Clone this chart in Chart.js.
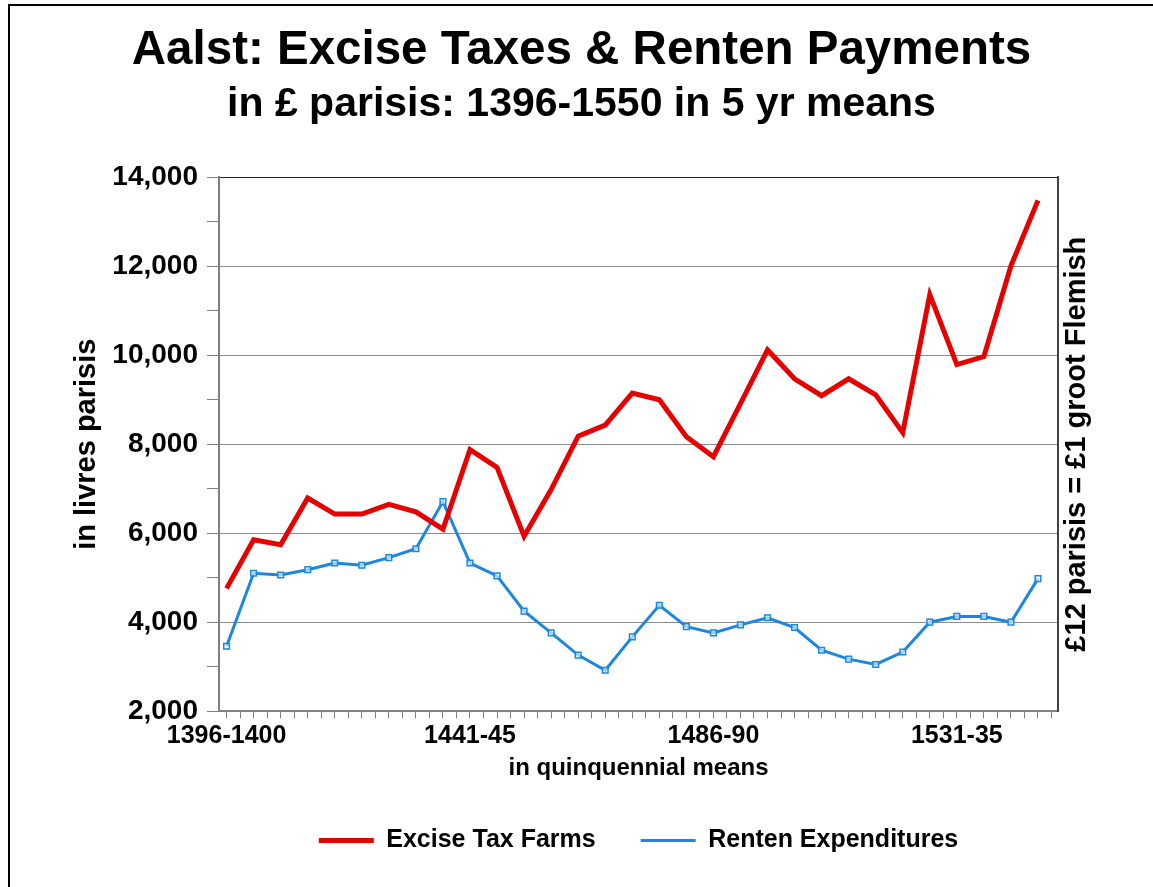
<!DOCTYPE html>
<html>
<head>
<meta charset="utf-8">
<title>Aalst: Excise Taxes & Renten Payments</title>
<script src="https://cdn.jsdelivr.net/npm/chart.js@4.4.1/dist/chart.umd.min.js"></script>
<style>
  html, body { margin: 0; padding: 0; background: #fff; overflow: hidden; }
  #frame { position: absolute; left: 8px; top: 4px; width: 1160px; height: 900px;
           border-left: 2px solid #000; border-top: 2px solid #000; }
  #chart { position: absolute; left: 0; top: 0; }
</style>
</head>
<body>
<div id="frame"></div>
<canvas id="chart" width="1153" height="887"></canvas>
<script>
const periods = [
    "1396-1400", "1401-05", "1406-10", "1411-15", "1416-20", "1421-25", "1426-30",
    "1431-35", "1436-40", "1441-45", "1446-50", "1451-55", "1456-60", "1461-65",
    "1466-70", "1471-75", "1476-80", "1481-85", "1486-90", "1491-95", "1496-1500",
    "1501-05", "1506-10", "1511-15", "1516-20", "1521-25", "1526-30", "1531-35",
    "1536-40", "1541-45", "1546-50"
];

const exciseTaxFarms = [
    4760, 5850, 5740, 6790, 6430, 6430, 6650, 6480, 6090, 7880, 7480,
    5930, 6980, 8180, 8430, 9150, 9000, 8170, 7720, 8910, 10120,
    9470, 9090, 9470, 9110, 8260, 11360, 9790, 9970, 12010, 13480
];

const rentenExpenditures = [
    3460, 5100, 5060, 5180, 5330, 5280, 5450, 5650, 6710, 5330, 5040,
    4250, 3760, 3260, 2920, 3670, 4380, 3900, 3760, 3940, 4100,
    3880, 3370, 3170, 3050, 3330, 4000, 4130, 4130, 4000, 4980
];

const labelledPeriods = ["1396-1400", "1441-45", "1486-90", "1531-35"];
const yTicks = [2000, 4000, 6000, 8000, 10000, 12000, 14000];

const rightTitleText = "£12 parisis = £1 groot Flemish";
const FONT = '"Liberation Sans", Arial, sans-serif';

function points(values) {
    return values.map((v, i) => ({ x: i, y: v }));
}

// right-hand axis title reads bottom-to-top, which Chart.js won't do on a right axis
const rightTitle = {
    id: "rightTitle",
    afterDraw(chart) {
        const { ctx, chartArea } = chart;
        ctx.save();
        ctx.translate(chartArea.right + 19, (chartArea.top + chartArea.bottom) / 2);
        ctx.rotate(-Math.PI / 2);
        ctx.font = "bold 29px " + FONT;
        ctx.fillStyle = "#000";
        ctx.textAlign = "center";
        ctx.textBaseline = "middle";
        ctx.fillText(rightTitleText, 0, 0);
        ctx.restore();
    }
};

new Chart(document.getElementById("chart"), {
    type: "line",
    data: {
        datasets: [{
            label: "Excise Tax Farms",
            data: points(exciseTaxFarms),
            borderColor: "#e60000",
            backgroundColor: "#e60000",
            borderWidth: 5,
            pointRadius: 0,
            tension: 0
        }, {
            label: "Renten Expenditures",
            data: points(rentenExpenditures),
            borderColor: "#1b87e3",
            backgroundColor: "#1b87e3",
            borderWidth: 3,
            pointStyle: "rect",
            pointRadius: 4,
            pointBorderWidth: 1.5,
            pointBackgroundColor: "rgba(255,255,255,0.6)",
            tension: 0
        }]
    },
    options: {
        responsive: false,
        animation: false,
        layout: { padding: { left: 10, right: 0, top: 10, bottom: 24 } },
        plugins: {
            tooltip: { enabled: false },
            title: {
                display: true,
                text: "Aalst: Excise Taxes & Renten Payments",
                color: "#000",
                font: { family: FONT, size: 47.5, weight: "bold" },
                padding: { top: 12, bottom: 0 }
            },
            subtitle: {
                display: true,
                text: "in £ parisis: 1396-1550 in 5 yr means",
                color: "#000",
                font: { family: FONT, size: 41, weight: "bold" },
                padding: { top: 1, bottom: 48 }
            },
            legend: {
                position: "bottom",
                fullSize: false,
                labels: {
                    color: "#000",
                    font: { family: FONT, size: 25, weight: "bold" },
                    usePointStyle: true,
                    pointStyleWidth: 55,
                    padding: 45,
                    generateLabels(chart) {
                        const items = Chart.defaults.plugins.legend.labels.generateLabels(chart);
                        return items.map(it => {
                            const ds = chart.data.datasets[it.datasetIndex];
                            return Object.assign(it, {
                                pointStyle: "line",
                                lineWidth: ds.borderWidth,
                                strokeStyle: ds.borderColor
                            });
                        });
                    }
                }
            }
        },
        scales: {
            x: {
                type: "linear",
                min: -0.28,
                max: 30.74,
                grid: { drawOnChartArea: false, tickLength: 7, tickColor: "#808080" },
                border: { color: "#808080", width: 2 },
                ticks: {
                    stepSize: 0.5,
                    includeBounds: false,
                    autoSkip: false,
                    maxRotation: 0,
                    padding: 3,
                    color: "#000",
                    font: { family: FONT, size: 25, weight: "bold" },
                    callback(value) {
                        const p = periods[value];
                        return Number.isInteger(value) && labelledPeriods.includes(p) ? p : "";
                    }
                },
                title: {
                    display: true,
                    text: "in quinquennial means",
                    color: "#000",
                    font: { family: FONT, size: 24, weight: "bold" },
                    padding: { top: 0, bottom: 0 }
                }
            },
            y: {
                position: "left",
                min: 2000,
                max: 14000,
                afterFit(scale) { scale.width = 209; },
                grid: {
                    tickLength: 12,
                    color(ctx) {
                        const v = ctx.tick && ctx.tick.value;
                        if (!yTicks.includes(v)) return "rgba(0,0,0,0)";
                        return v === 14000 ? "#222" : "#8c8c8c";
                    },
                    tickColor: "#808080"
                },
                border: { color: "#808080", width: 2 },
                ticks: {
                    stepSize: 1000,
                    padding: 9,
                    color: "#000",
                    font: { family: FONT, size: 28, weight: "bold" },
                    callback(value) {
                        return yTicks.includes(value) ? value.toLocaleString("en-US") : "";
                    }
                },
                title: {
                    display: true,
                    text: "in livres parisis",
                    color: "#000",
                    font: { family: FONT, size: 29, weight: "bold" },
                    padding: { top: 60, bottom: 0 }
                }
            },
            y2: {
                position: "right",
                min: 2000,
                max: 14000,
                afterFit(scale) { scale.width = 95; },
                grid: { drawOnChartArea: false, drawTicks: false },
                border: { color: "#444", width: 2 },
                ticks: { display: false }
            }
        }
    },
    plugins: [rightTitle]
});
</script>
</body>
</html>
